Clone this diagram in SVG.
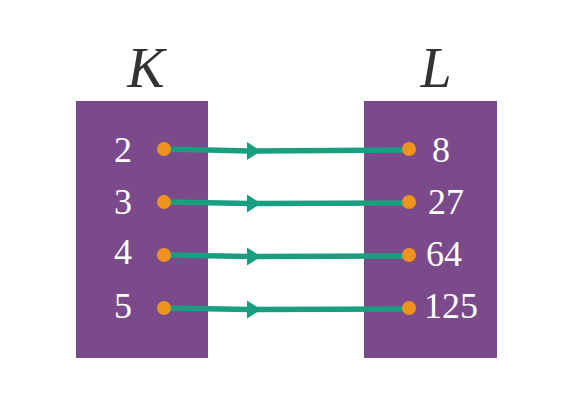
<svg xmlns="http://www.w3.org/2000/svg" width="574" height="413" viewBox="0 0 574 413">
<style>
.set{fill:#7a4a8a}
.title{font-family:"Liberation Serif",serif;font-style:italic;font-size:56px;fill:#333333;text-anchor:middle}
.num{font-family:"Liberation Serif",serif;font-size:36px;fill:#ffffff}
.dot{fill:#f0921e}
.edge{stroke:#1a9e80;stroke-width:5.5;fill:none;stroke-linecap:butt}
.head{fill:#1a9e80}
</style>
<rect width="574" height="413" fill="#ffffff"/>
<g id="K">
<rect class="set" x="76" y="101" width="132" height="257"/>
<text class="title" x="146" y="87">K</text>
<text class="num" x="123" y="162" text-anchor="middle">2</text>
<text class="num" x="123" y="214" text-anchor="middle">3</text>
<text class="num" x="123" y="264" text-anchor="middle">4</text>
<text class="num" x="123" y="318" text-anchor="middle">5</text>
</g>
<g id="L">
<rect class="set" x="364" y="101" width="133" height="257"/>
<text class="title" x="436" y="87">L</text>
<text class="num" x="441" y="162" text-anchor="middle">8</text>
<text class="num" x="446" y="214" text-anchor="middle">27</text>
<text class="num" x="444" y="266" text-anchor="middle">64</text>
<text class="num" x="451" y="318" text-anchor="middle">125</text>
</g>
<g id="connectors">
<path class="edge" d="M164 149 L250 151 L409 150"/>
<path class="edge" d="M164 202 L250 203.5 L409 203"/>
<path class="edge" d="M164 255 L250 256.5 L409 256"/>
<path class="edge" d="M164 308 L250 309.5 L409 309"/>
<polygon class="head" points="247,142 261,151 247,160"/>
<polygon class="head" points="247,194.5 261,203.5 247,212.5"/>
<polygon class="head" points="247,247.5 261,256.5 247,265.5"/>
<polygon class="head" points="247,300.5 261,309.5 247,318.5"/>
</g>
<g id="dots">
<circle class="dot" cx="164" cy="149" r="7"/>
<circle class="dot" cx="164" cy="202" r="7"/>
<circle class="dot" cx="164" cy="255" r="7"/>
<circle class="dot" cx="164" cy="308" r="7"/>
<circle class="dot" cx="409" cy="149" r="7"/>
<circle class="dot" cx="409" cy="202" r="7"/>
<circle class="dot" cx="409" cy="255" r="7"/>
<circle class="dot" cx="409" cy="308" r="7"/>
</g>
</svg>
